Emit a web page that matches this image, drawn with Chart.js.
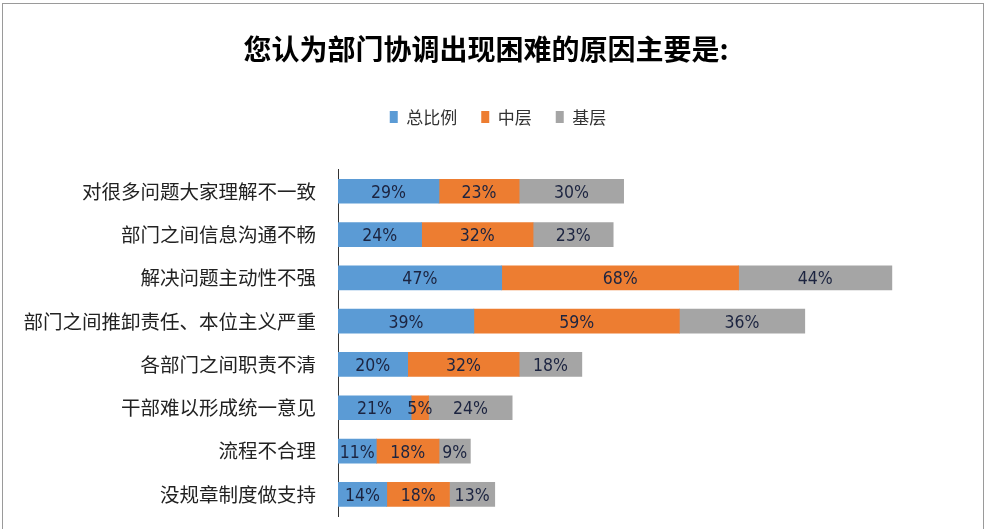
<!DOCTYPE html>
<html lang="zh">
<head>
  <meta charset="UTF-8">
  <title>部门协调困难原因</title>
  <script src="https://cdn.jsdelivr.net/npm/chart.js@4.4.1/dist/chart.umd.min.js"></script>
  <style>
    body { margin: 0; background: #fff; }
    #wrap { position: relative; width: 990px; height: 529px; overflow: hidden; }
    #frame {
      position: absolute; left: 2px; top: 3px; width: 980px; height: 540px;
      border: 1px solid #9a9a9a; pointer-events: none;
    }
    #chart { position: absolute; left: 0; top: 0; }
  </style>
</head>
<body>
  <div id="wrap">
    <canvas id="chart" width="990" height="529"></canvas>
    <div id="frame"></div>
  </div>
  <script>
    const categories = [
      '对很多问题大家理解不一致',
      '部门之间信息沟通不畅',
      '解决问题主动性不强',
      '部门之间推卸责任、本位主义严重',
      '各部门之间职责不清',
      '干部难以形成统一意见',
      '流程不合理',
      '没规章制度做支持'
    ];
    const totalShare = [29, 24, 47, 39, 20, 21, 11, 14];
    const middleLevel = [23, 32, 68, 59, 32, 5, 18, 18];
    const baseLevel = [30, 23, 44, 36, 18, 24, 9, 13];
    const seriesNames = ['总比例', '中层', '基层'];
    const seriesColors = ['#5b9bd5', '#ed7d31', '#a5a5a5'];

    const cjk = '"Noto Sans CJK SC", "Noto Sans", sans-serif';

    // draws the percentage in the middle of each segment
    const valueLabels = {
      id: 'valueLabels',
      afterDatasetsDraw(chart) {
        const ctx = chart.ctx;
        ctx.save();
        ctx.font = '17.5px "Liberation Sans Narrow", "DejaVu Sans Condensed", sans-serif';
        ctx.fillStyle = '#1c2440';
        ctx.textAlign = 'center';
        ctx.textBaseline = 'middle';
        chart.data.datasets.forEach((ds, i) => {
          chart.getDatasetMeta(i).data.forEach((bar, j) => {
            const x = (bar.x + bar.base) / 2;
            ctx.fillText(ds.data[j] + '%', x, bar.y + 2);
          });
        });
        ctx.restore();
      }
    };

    // legend sits a bit right of the title in the original
    const legendShift = {
      id: 'legendShift',
      afterLayout(chart) {
        chart.legend.left += 12;
        chart.legend.right += 12;
      }
    };

    new Chart(document.getElementById('chart'), {
      type: 'bar',
      data: {
        labels: categories,
        datasets: [totalShare, middleLevel, baseLevel].map((d, i) => ({
          label: seriesNames[i],
          data: d,
          backgroundColor: seriesColors[i],
          borderWidth: 0,
          barThickness: 24
        }))
      },
      options: {
        indexAxis: 'y',
        responsive: false,
        animation: false,
        layout: { padding: { top: 20, right: 18, bottom: 13, left: 0 } },
        scales: {
          x: {
            stacked: true,
            min: 0,
            max: 182,
            position: 'top',
            grid: { display: false },
            border: { display: false },
            ticks: { display: false },
            afterFit: s => { s.height = 34; }
          },
          y: {
            stacked: true,
            grid: { display: false },
            border: { display: true, color: '#333', width: 1 },
            ticks: {
              color: '#222',
              padding: 14,
              font: { family: cjk, size: 19.5 }
            },
            afterFit: s => {
              s.width = 338;
              s.paddingTop = 0;
              s.paddingBottom = 0;
            }
          }
        },
        plugins: {
          title: {
            display: true,
            text: '您认为部门协调出现困难的原因主要是:',
            color: '#000',
            font: { family: cjk, size: 28, weight: 'bold' },
            padding: { top: 13, bottom: 18 }
          },
          legend: {
            display: true,
            labels: {
              boxWidth: 8,
              boxHeight: 12,
              padding: 24,
              color: '#333',
              font: { family: cjk, size: 17 }
            }
          },
          tooltip: { enabled: false }
        }
      },
      plugins: [valueLabels, legendShift]
    });
  </script>
</body>
</html>
